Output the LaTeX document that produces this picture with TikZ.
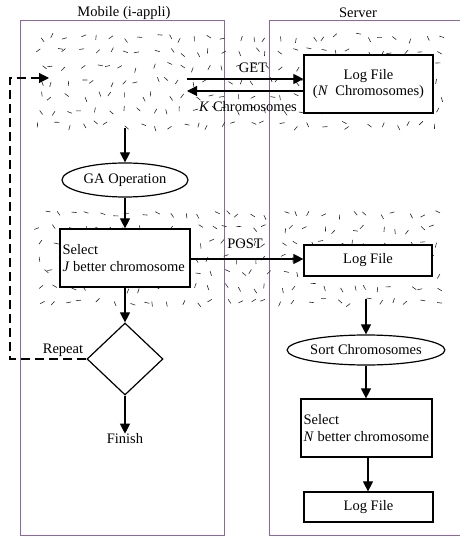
\documentclass[tikz,border=0pt]{standalone}
\usepackage{fontspec}
\setmainfont{Liberation Serif}
\usetikzlibrary{arrows.meta,shapes.geometric}
\definecolor{lane}{RGB}{145,100,170}
\tikzset{
  lanebox/.style={draw=lane,line width=1pt},
  box/.style={draw,fill=white,line width=1.2pt,inner sep=0pt},
  oval/.style={draw,fill=white,ellipse,line width=1.2pt,inner sep=0pt},
  decision/.style={draw,fill=white,diamond,line width=1.2pt,inner sep=0pt},
  flow/.style={-{Triangle[length=10pt,width=10pt]},line width=1.1pt},
  loopline/.style={flow,dash pattern=on 9pt off 5pt},
  hatch/.style={line width=0.6pt,black!85},
  txt/.style={inner sep=0pt}
}
\begin{document}
\begin{tikzpicture}[x=1pt,y=-1pt,font=\fontsize{14.5}{16.5}\selectfont]
\useasboundingbox (0,0) rectangle (459,537);
% lanes
\draw[lanebox] (20,21) rectangle (224,535);
\draw[lanebox] (269,21) -- (269,535) -- (470,535);
\draw[lanebox] (269,21) -- (470,21);
\node[txt] (mob) at (124,13) {Mobile (i-appli)};
\node[txt] (srv) at (358,13) {Server};
% hatched regions
\pgfmathsetseed{4242}
\foreach \i in {0,...,28}{
  \foreach \j in {0,...,6}{
    \pgfmathsetmacro\xx{40+\i*14.2+rand*4}
    \pgfmathsetmacro\yy{36+\j*14.6+rand*3}
    \pgfmathsetmacro\aa{rnd*180}
    \draw[hatch] (\xx,\yy) -- ++(\aa:5);
  }
}
\foreach \i in {0,...,28}{
  \foreach \j in {0,...,6}{
    \pgfmathsetmacro\xx{42+\i*14.1+rand*4}
    \pgfmathsetmacro\yy{213+\j*14.6+rand*3}
    \pgfmathsetmacro\aa{rnd*180}
    \draw[hatch] (\xx,\yy) -- ++(\aa:5);
  }
}
% server nodes
\node[box,minimum width=129pt,minimum height=58pt,align=center] (log1) at (368.5,84) {Log File\\(\textit{N}\ \ Chromosomes)};
\node[box,minimum width=128pt,minimum height=31pt] (log2) at (368,260.5) {Log File};
\node[oval,minimum width=141pt,minimum height=30pt] (sort) at (366,350) {Sort Chromosomes};
\node[box,minimum width=131pt,minimum height=58pt,
  label={[anchor=west,align=left,inner sep=0pt,xshift=3pt]west:{Select\\\textit{N} better chromosome}}] (seln) at (366.5,428) {};
\node[box,minimum width=129pt,minimum height=30pt] (log3) at (368.5,507) {Log File};
% mobile nodes
\node[oval,minimum width=126pt,minimum height=34pt] (ga) at (125,180) {GA Operation};
\node[box,minimum width=130pt,minimum height=58pt,
  label={[anchor=west,align=left,inner sep=0pt,xshift=3pt]west:{Select\\\textit{J} better chromosome}}] (selj) at (125,258) {};
\node[decision,minimum width=76pt,minimum height=72pt] (dec) at (125,359) {};
\node[txt] (fin) at (125,439) {Finish};
\node[txt] (rep) at (63,350) {Repeat};
% coordinates
\coordinate (getS) at (187,79);
\coordinate (kE) at (187,91);
\coordinate (hatchB) at (125,128);
\coordinate (hatch2B) at (366,299);
\coordinate (loopL) at (10,359);
\coordinate (loopT) at (10,78);
\coordinate (loopE) at (49,78);
\coordinate (nx) at (368,0);
% connectors
\draw[flow] (getS) -- (getS -| log1.west);
\draw[flow] (kE -| log1.west) -- (kE);
\node[txt] (getl) at (253,68) {GET};
\node[txt] (kl) at (248,107) {\textit{K} Chromosomes};
\draw[flow] (hatchB) -- (ga.north);
\draw[flow] (ga.south) -- (selj.north);
\draw[flow] (selj.east |- 0,259) -- (log2.west |- 0,259);
\node[txt] (postl) at (245,244) {POST};
\draw[flow] (selj.south) -- (dec.north);
\draw[flow] (dec.south) -- (fin.north);
\draw[loopline] (dec.west) -- (loopL) -- (loopT) -- (loopE);
\draw[flow] (hatch2B) -- (sort.north);
\draw[flow] (sort.south) -- (sort.south |- seln.north);
\draw[flow] (nx |- seln.south) -- (nx |- log3.north);
\end{tikzpicture}
\end{document}
